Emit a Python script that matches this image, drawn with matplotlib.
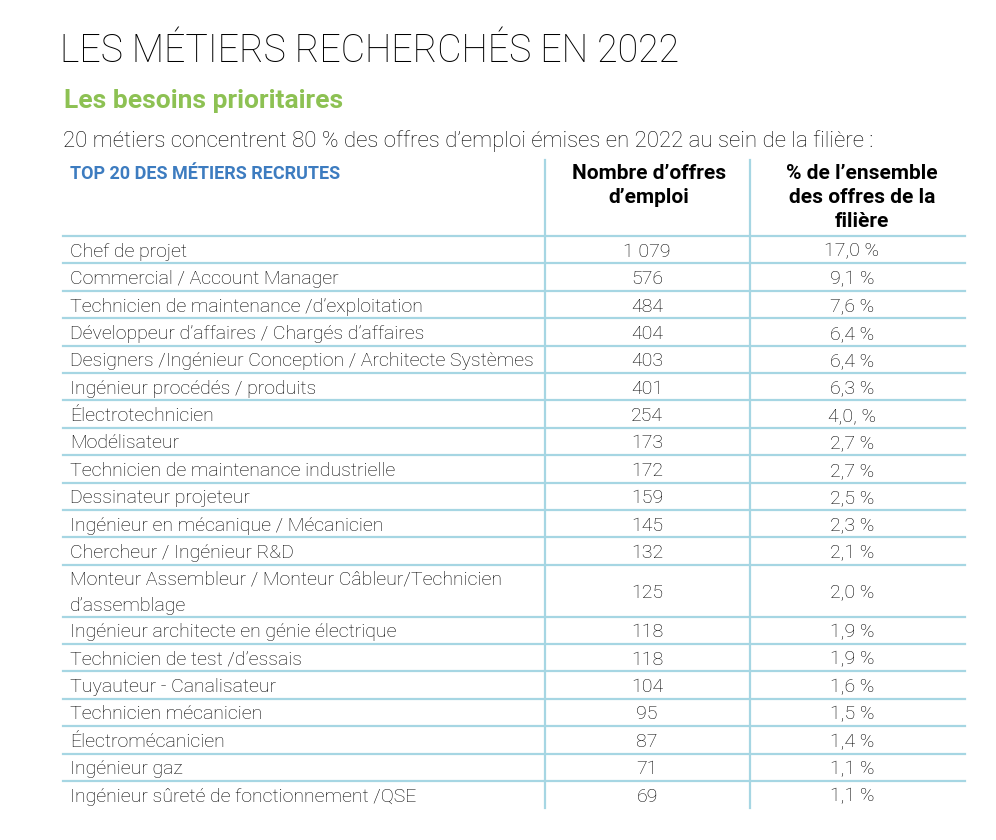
import matplotlib
matplotlib.use("Agg")
import matplotlib.pyplot as plt

# table content
metiers = [
    "Chef de projet",
    "Commercial / Account Manager",
    "Technicien de maintenance /d\u2019exploitation",
    "Développeur d\u2019affaires / Chargés d\u2019affaires",
    "Designers /Ingénieur Conception / Architecte Systèmes",
    "Ingénieur procédés / produits",
    "Électrotechnicien",
    "Modélisateur",
    "Technicien de maintenance industrielle",
    "Dessinateur projeteur",
    "Ingénieur en mécanique / Mécanicien",
    "Chercheur / Ingénieur R&D",
    "Monteur Assembleur / Monteur Câbleur/Technicien\nd\u2019assemblage",
    "Ingénieur architecte en génie électrique",
    "Technicien de test /d\u2019essais",
    "Tuyauteur - Canalisateur",
    "Technicien mécanicien",
    "Électromécanicien",
    "Ingénieur gaz",
    "Ingénieur sûreté de fonctionnement /QSE",
]
offres = ["1 079", "576", "484", "404", "403", "401", "254", "173", "172", "159",
          "145", "132", "125", "118", "118", "104", "95", "87", "71", "69"]
parts = ["17,0 %", "9,1 %", "7,6 %", "6,4 %", "6,4 %", "6,3 %", "4,0, %", "2,7 %",
         "2,7 %", "2,5 %", "2,3 %", "2,1 %", "2,0 %", "1,9 %", "1,9 %", "1,6 %",
         "1,5 %", "1,4 %", "1,1 %", "1,1 %"]
col_headers = ["TOP 20 DES MÉTIERS RECRUTES", "Nombre d\u2019offres\nd\u2019emploi",
               "% de l\u2019ensemble\ndes offres de la\nfilière"]

title = "LES MÉTIERS RECHERCHÉS EN 2022"
subtitle = "Les besoins prioritaires"
intro = "20 métiers concentrent 80 % des offres d\u2019emploi émises en 2022 au sein de la filière :"

LINE = "#a6d6e3"
GREEN = "#8dc153"
BLUE = "#3d7cc0"
FONT = ["Roboto", "DejaVu Sans"]
TXT = "#000000"

fig = plt.figure(figsize=(9.96, 8.4), dpi=100)
ax = fig.add_axes([0, 0, 1, 1])
ax.set_xlim(0, 996)
ax.set_ylim(840, 0)
ax.axis("off")

ax.text(60, 62, title, fontsize=27, family=FONT, weight="light", color=TXT, va="baseline")
ax.text(64, 108, subtitle, fontsize=19, family=FONT, weight="bold", color=GREEN, va="baseline")
ax.text(63, 147, intro, fontsize=16, family=FONT, weight="light", color=TXT, va="baseline")

x_left, x_right = 63, 965
x_v1, x_v2 = 545, 750
x_c2, x_c3 = 647, 852
y_top = 160
row_h = 27.4
y = 236

# header
ax.text(70, 165, col_headers[0], fontsize=13, family=FONT, weight="bold", color=BLUE, va="top")
ax.text(x_c2 + 2, 164, col_headers[1], fontsize=15, family=FONT, weight="bold", color=TXT,
        va="top", ha="center", linespacing=1.32)
ax.text(x_c3 + 10, 164, col_headers[2], fontsize=15, family=FONT, weight="bold", color=TXT,
        va="top", ha="center", linespacing=1.32)

ax.plot([x_left, x_right], [y, y], color=LINE, lw=1.6)
for i, name in enumerate(metiers):
    h = row_h * (1 + name.count("\n")) - (3 if "\n" in name else 0)
    yc = y + h / 2 + 2
    ax.text(70, yc, name, fontsize=14, family=FONT, weight="light", color=TXT, va="center",
            linespacing=1.6)
    ax.text(x_c2, yc, offres[i], fontsize=14, family=FONT, weight="light", color=TXT,
            va="center", ha="center")
    ax.text(x_c3, yc, parts[i], fontsize=14, family=FONT, weight="light", color=TXT,
            va="center", ha="center")
    y += h
    if i < len(metiers) - 1:
        ax.plot([x_left, x_right], [y, y], color=LINE, lw=1.6)

for xv in (x_v1, x_v2):
    ax.plot([xv, xv], [y_top, y], color=LINE, lw=1.6)

fig.savefig("out.png", dpi=100, facecolor="white")
